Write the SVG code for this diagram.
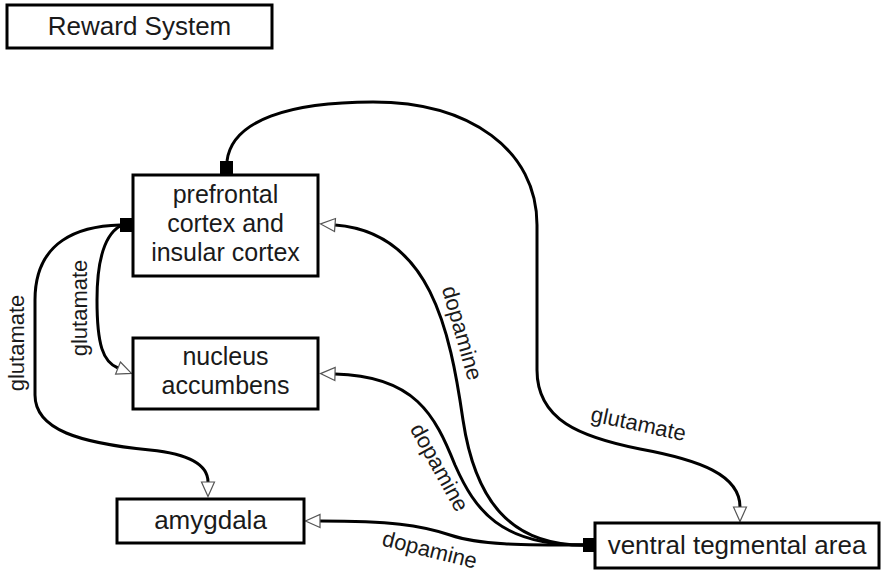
<svg xmlns="http://www.w3.org/2000/svg" width="883" height="575" viewBox="0 0 883 575">
<defs>
<style>
.box{fill:#fff;stroke:#000;stroke-width:3}
.nt{font-family:"Liberation Sans",Arial,sans-serif;font-size:26px;fill:#1a1a1a;text-anchor:middle}
.nt2{font-family:"Liberation Sans",Arial,sans-serif;font-size:25px;fill:#1a1a1a;text-anchor:middle}
.lb{font-family:"Liberation Sans",Arial,sans-serif;font-size:22px;fill:#1a1a1a;text-anchor:middle}
.ln{fill:none;stroke:#000;stroke-width:3;marker-end:url(#open)}
.sq{fill:#000}
</style>
<marker id="open" markerUnits="userSpaceOnUse" markerWidth="17" markerHeight="16" refX="0.5" refY="7" orient="auto" overflow="visible">
<path d="M0.5,0.5 L15,7 L0.5,13.5 z" fill="#fff" stroke="#555" stroke-width="1.2"/>
</marker>
</defs>
<rect width="883" height="575" fill="#fff"/>
<g id="title">
<rect class="box" x="7" y="5" width="265" height="43"/>
<text class="nt" x="139.5" y="35">Reward System</text>
</g>
<g id="connectors">
<path id="e-pfc-vta" class="ln" d="M227,161 C232,120 290,102 373,102 C470,102 537,150 537,225 L537,370 C537,420 580,437 640,449 C700,460 740,475 740,507"/>
<path id="e-pfc-nacc" class="ln" d="M120,226 C105,235 97,260 97,300 C97,345 103,362 118,368"/>
<path id="e-pfc-amy" class="ln" d="M120,225 C80,226 35,240 35,300 L35,395 C35,430 80,443 150,450 C190,454 208,465 208,482"/>
<path id="e-vta-pfc" class="ln" d="M583,545 C510,545 475,500 463,420 C450,330 430,232 335,225"/>
<path id="e-vta-nacc" class="ln" d="M583,545 C500,545 475,510 455,465 C435,415 415,376 335,374"/>
<path id="e-vta-amy" class="ln" d="M583,545 C520,545 480,545 450,535 C420,525 390,521 320,521"/>
<rect class="sq" x="220" y="161" width="13" height="13"/>
<rect class="sq" x="120" y="218" width="12" height="14"/>
<rect class="sq" x="583" y="538" width="12" height="14"/>
<text class="lb" transform="translate(637,431) rotate(12)">glutamate</text>
<text class="lb" transform="translate(87,308) rotate(-90)">glutamate</text>
<text class="lb" transform="translate(24,343) rotate(-90)">glutamate</text>
<text class="lb" transform="translate(455,335) rotate(74)">dopamine</text>
<text class="lb" transform="translate(433,471) rotate(61)">dopamine</text>
<text class="lb" transform="translate(428,557) rotate(14)">dopamine</text>
</g>
<g id="pfc">
<rect class="box" x="133" y="175" width="185" height="101"/>
<text class="nt2" x="225.5" y="203">prefrontal</text>
<text class="nt2" x="225.5" y="232">cortex and</text>
<text class="nt2" x="225.5" y="261">insular cortex</text>
</g>
<g id="nacc">
<rect class="box" x="133" y="338" width="185" height="71"/>
<text class="nt2" x="225.5" y="365">nucleus</text>
<text class="nt2" x="225.5" y="394">accumbens</text>
</g>
<g id="amygdala">
<rect class="box" x="117" y="499" width="187" height="44"/>
<text class="nt" x="210.5" y="529">amygdala</text>
</g>
<g id="vta">
<rect class="box" x="595" y="523" width="284" height="45"/>
<text class="nt" x="737" y="554">ventral tegmental area</text>
</g>
</svg>
